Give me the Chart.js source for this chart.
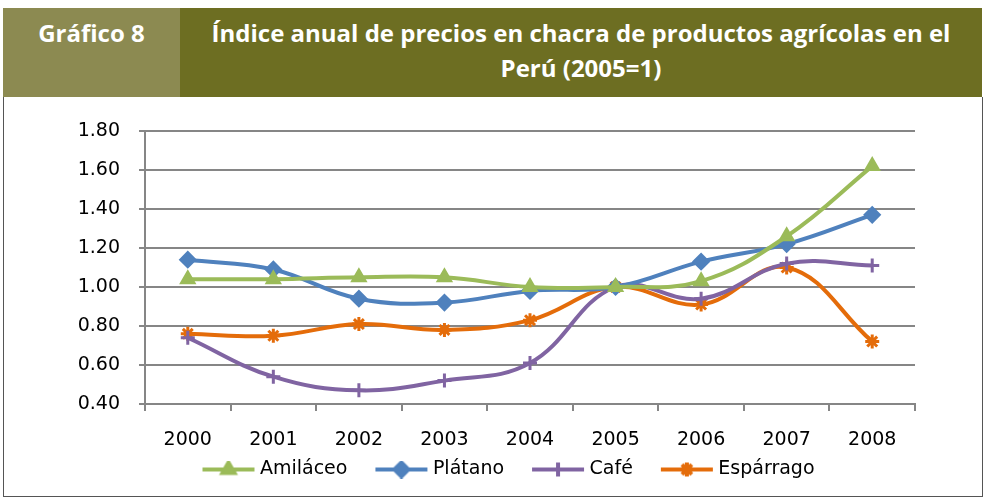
<!DOCTYPE html>
<html lang="es">
<head>
<meta charset="UTF-8">
<title>Gráfico 8</title>
<script src="https://cdn.jsdelivr.net/npm/chart.js"></script>
<style>
    body { margin: 0; background: #fff; font-family: "Open Sans", sans-serif; }
    .head { position: absolute; left: 3px; top: 8px; width: 979px; height: 89px; display: flex; }
    .head .num { width: 177px; background: #8c8a51; color: #fff; font-weight: bold; font-size: 24px; line-height: 34px;
                 text-align: center; padding-top: 8px; box-sizing: border-box; }
    .head .ttl { flex: 1; background: #6d6e22; color: #fff; font-weight: bold; font-size: 24px; line-height: 35px;
                 text-align: center; padding-top: 7px; box-sizing: border-box; }
    .box { position: absolute; left: 3px; top: 97px; width: 978px; height: 399px; border: 1px solid #555; border-top: none; }
</style>
</head>
<body>
<div class="head">
    <div class="num">Gráfico 8</div>
    <div class="ttl">Índice anual de precios en chacra de productos agrícolas en el<br>Perú (2005=1)</div>
</div>
<div class="box">
    <canvas id="chart" width="978" height="399"></canvas>
</div>
<script>
    const years = ['2000', '2001', '2002', '2003', '2004', '2005', '2006', '2007', '2008'];
    const amilaceo = [1.04, 1.04, 1.05, 1.05, 1.00, 1.00, 1.03, 1.26, 1.62];
    const platano = [1.14, 1.09, 0.94, 0.92, 0.98, 1.00, 1.13, 1.22, 1.37];
    const cafe = [0.74, 0.54, 0.47, 0.52, 0.61, 1.00, 0.94, 1.12, 1.11];
    const esparrago = [0.76, 0.75, 0.81, 0.78, 0.83, 1.00, 0.91, 1.10, 0.72];

    // legend sample: line with marker in the middle, blank on the left acts as item gap
    function legendIcon(color, style) {
        const c = document.createElement('canvas');
        c.width = 76; c.height = 18;
        const g = c.getContext('2d');
        g.strokeStyle = color; g.fillStyle = color; g.lineWidth = 4; g.lineCap = 'butt';
        g.beginPath(); g.moveTo(23, 9); g.lineTo(75, 9); g.stroke();
        Chart.helpers.drawPoint(g, { pointStyle: style, radius: 7, borderWidth: 2.5 }, 49, 9);
        if (style !== 'cross' && style !== 'star') g.fill();
        return c;
    }

    const green = '#9bbb59', blue = '#4f81bd', purple = '#8064a2', orange = '#e46c0a';

    function series(label, data, color, style, radius) {
        return {
            label: label, data: data,
            borderColor: color, backgroundColor: color,
            borderWidth: 4, tension: 0.4,
            pointStyle: style, pointRadius: radius, pointBorderWidth: 3,
            pointBackgroundColor: color, pointBorderColor: color
        };
    }

    // move the legend a bit right, like the original
    const legendShift = {
        id: 'legendShift',
        afterLayout(chart) {
            chart.legend.left += 30;
            chart.legend.right += 30;
        }
    };

    const ctx = document.getElementById('chart').getContext('2d');
    new Chart(ctx, {
        type: 'line',
        data: {
            labels: years,
            datasets: [
                series('Amiláceo', amilaceo, green, 'triangle', 7),
                series('Plátano', platano, blue, 'rectRot', 7),
                series('Café', cafe, purple, 'cross', 7),
                series('Espárrago', esparrago, orange, 'star', 7)
            ]
        },
        plugins: [legendShift],
        options: {
            responsive: false,
            animation: false,
            layout: { padding: { left: 20, top: 34, right: 67, bottom: 7 } },
            plugins: {
                tooltip: { enabled: false },
                legend: {
                    position: 'bottom',
                    labels: {
                        usePointStyle: true,
                        pointStyleWidth: 66,
                        color: '#000',
                        font: { family: 'DejaVu Sans', size: 19 },
                        padding: 10,
                        generateLabels: function(chart) {
                            return chart.data.datasets.map((d, i) => ({
                                text: d.label,
                                pointStyle: legendIcon(d.borderColor, d.pointStyle),
                                fillStyle: d.borderColor, strokeStyle: d.borderColor,
                                lineWidth: 0, datasetIndex: i, hidden: false
                            }));
                        }
                    }
                }
            },
            scales: {
                x: {
                    offset: true,
                    grid: { drawOnChartArea: false, color: '#868686', lineWidth: 2, tickLength: 7, offset: true },
                    border: { color: '#868686', width: 2 },
                    ticks: { color: '#000', font: { family: 'DejaVu Sans', size: 19 }, padding: 18 },
                    afterFit: s => { s.height = 46; }
                },
                y: {
                    min: 0.4, max: 1.8,
                    grid: { color: '#868686', lineWidth: 2, tickLength: 6 },
                    border: { color: '#868686', width: 2 },
                    ticks: {
                        stepSize: 0.2, color: '#000', padding: 19,
                        font: { family: 'DejaVu Sans', size: 19 },
                        callback: v => Number(v).toFixed(2)
                    },
                    afterFit: s => { s.width = 121; }
                }
            }
        }
    });
</script>
</body>
</html>
